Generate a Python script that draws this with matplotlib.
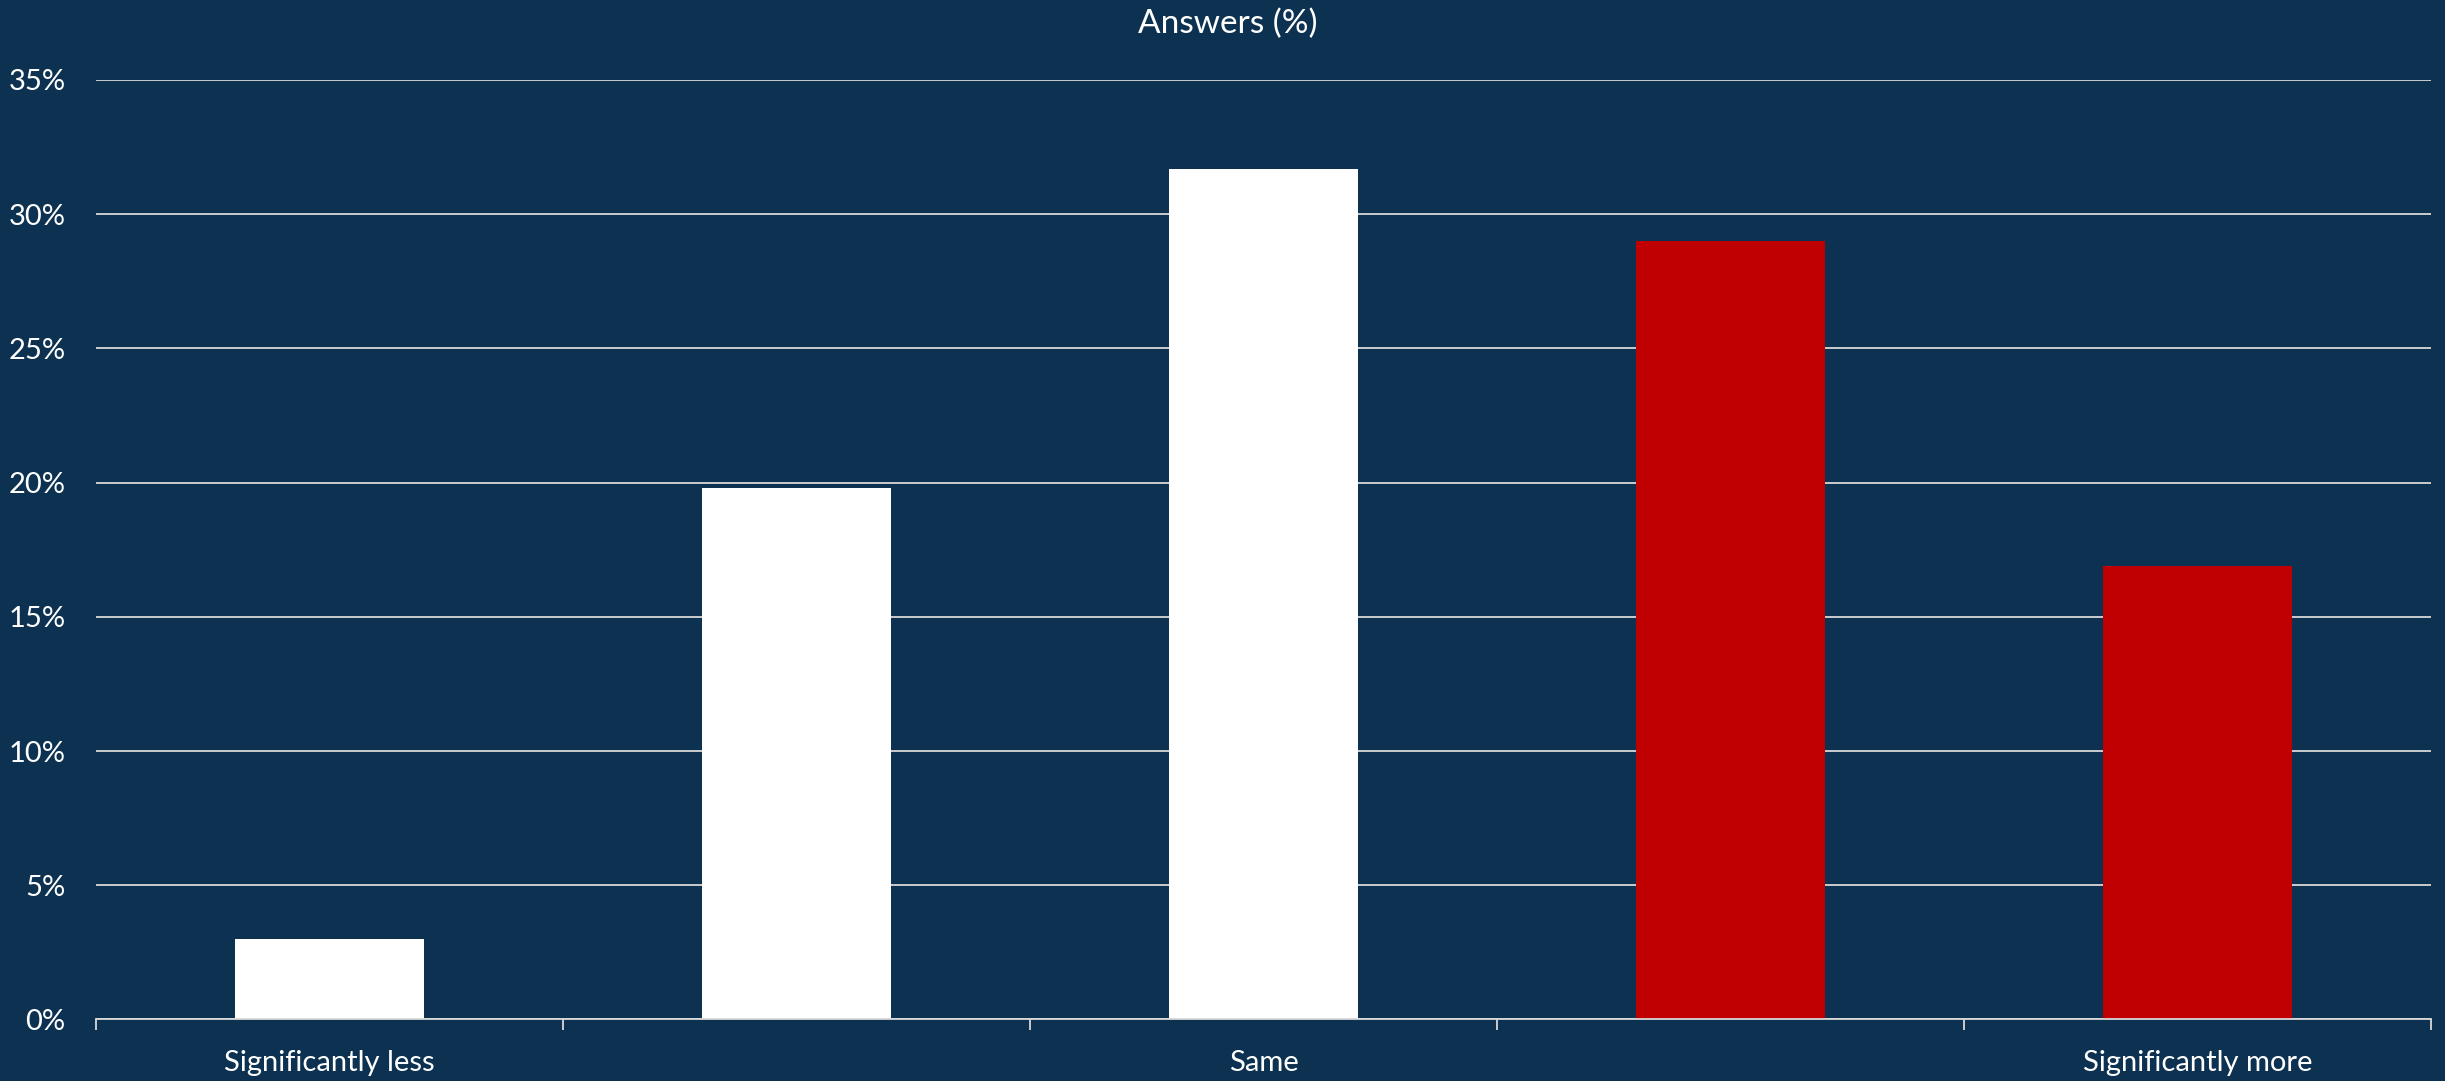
import numpy as np
import matplotlib.pyplot as plt
from matplotlib.ticker import FixedLocator, FuncFormatter

# Données
categories = ['Significantly less', '', 'Same', '', 'Significantly more']
values = [3.0, 19.8, 31.7, 29.0, 16.9]
bar_colors = ['#FFFFFF', '#FFFFFF', '#FFFFFF', '#C00000', '#C00000']
yticks = [0, 5, 10, 15, 20, 25, 30, 35]

BG = '#0D3251'
GRID = '#D9D9D9'

plt.rcParams['font.family'] = ['Lato', 'DejaVu Sans']

fig = plt.figure(figsize=(24.45, 10.81), dpi=100, facecolor=BG)
ax = fig.add_axes([0.0393, 0.0569, 0.955, 0.8691], facecolor=BG)

x = np.arange(len(values))
ax.bar(x, values, width=0.405, color=bar_colors, zorder=3)

ax.set_xlim(-0.5, len(values) - 0.5)
ax.set_ylim(0, 35)

# Grille horizontale
ax.set_yticks(yticks)
ax.yaxis.set_major_formatter(FuncFormatter(lambda v, p: f'{int(v)}%'))
ax.grid(axis='y', color=GRID, linewidth=1.3, zorder=0)
ax.tick_params(axis='y', length=0, pad=22, labelsize=21, labelcolor='white')

# Graduations aux limites des catégories, étiquettes au centre
ax.xaxis.set_major_locator(FixedLocator(np.arange(-0.5, len(values), 1.0)))
ax.xaxis.set_major_formatter(FuncFormatter(lambda v, p: ''))
ax.xaxis.set_minor_locator(FixedLocator(x))
ax.set_xticklabels(categories, minor=True)
ax.tick_params(axis='x', which='major', length=8, width=1.3, color=GRID)
ax.tick_params(axis='x', which='minor', length=0, pad=22, labelsize=21, labelcolor='white')

for side in ['top', 'right', 'left']:
    ax.spines[side].set_visible(False)
ax.spines['bottom'].set_color(GRID)
ax.spines['bottom'].set_linewidth(1.3)
ax.spines['bottom'].set_zorder(4)

fig.text(0.502, 0.978, 'Answers (%)', ha='center', va='center', fontsize=24, color='white')

fig.savefig('out.png', dpi=100, facecolor=BG)
